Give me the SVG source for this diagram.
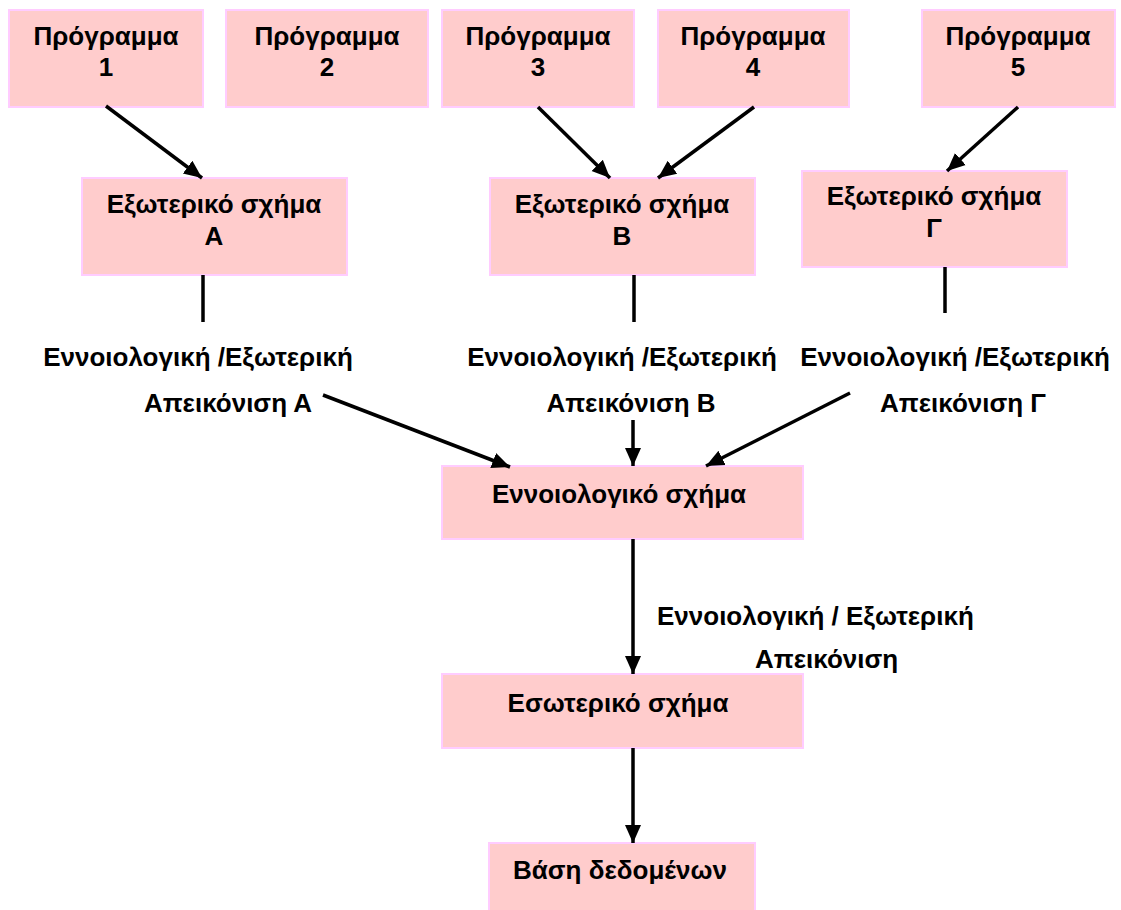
<svg xmlns="http://www.w3.org/2000/svg" width="1121" height="910" viewBox="0 0 1121 910">
  <style>
    .box { fill: #FFCCCC; stroke: #FFCCFF; stroke-width: 2; }
    .t { font-family: "Liberation Sans", Arial, sans-serif; font-weight: bold; font-size: 26px; fill: #000; }
    .c { text-anchor: middle; }
    .ln { stroke: #000; stroke-width: 3.5; fill: none; }
    .ar { stroke: #000; stroke-width: 3.5; fill: none; marker-end: url(#head); }
  </style>
  <defs>
    <marker id="head" markerUnits="userSpaceOnUse" markerWidth="20" markerHeight="20" viewBox="0 0 20 20" refX="18" refY="10" orient="auto">
      <path d="M0,2 L18,10 L0,18 Z" fill="#000"/>
    </marker>
  </defs>

  <rect width="1121" height="910" fill="#FFFFFF"/>

  <!-- programs -->
  <g id="prog1">
    <rect class="box" x="9" y="10" width="194" height="97"/>
    <text class="t c" x="106" y="45">Πρόγραμμα</text>
    <text class="t c" x="106" y="76">1</text>
  </g>
  <g id="prog2">
    <rect class="box" x="226" y="10" width="202" height="97"/>
    <text class="t c" x="327" y="45">Πρόγραμμα</text>
    <text class="t c" x="327" y="76">2</text>
  </g>
  <g id="prog3">
    <rect class="box" x="442" y="10" width="192" height="97"/>
    <text class="t c" x="538" y="45">Πρόγραμμα</text>
    <text class="t c" x="538" y="76">3</text>
  </g>
  <g id="prog4">
    <rect class="box" x="658" y="10" width="191" height="97"/>
    <text class="t c" x="753" y="45">Πρόγραμμα</text>
    <text class="t c" x="753" y="76">4</text>
  </g>
  <g id="prog5">
    <rect class="box" x="922" y="10" width="193" height="97"/>
    <text class="t c" x="1018" y="45">Πρόγραμμα</text>
    <text class="t c" x="1018" y="76">5</text>
  </g>

  <!-- external schemas -->
  <g id="extA">
    <rect class="box" x="82" y="178" width="265" height="97"/>
    <text class="t c" x="214" y="213">Εξωτερικό σχήμα</text>
    <text class="t c" x="214" y="245">Α</text>
  </g>
  <g id="extB">
    <rect class="box" x="490" y="178" width="265" height="97"/>
    <text class="t c" x="622" y="213">Εξωτερικό σχήμα</text>
    <text class="t c" x="622" y="245">Β</text>
  </g>
  <g id="extG">
    <rect class="box" x="802" y="171" width="265" height="96"/>
    <text class="t c" x="934" y="205">Εξωτερικό σχήμα</text>
    <text class="t c" x="934" y="237">Γ</text>
  </g>

  <!-- mapping labels -->
  <g id="mapA">
    <text class="t c" x="198" y="366">Εννοιολογική /Εξωτερική</text>
    <text class="t c" x="228" y="412">Απεικόνιση Α</text>
  </g>
  <g id="mapB">
    <text class="t c" x="622" y="366">Εννοιολογική /Εξωτερική</text>
    <text class="t c" x="631" y="412">Απεικόνιση Β</text>
  </g>
  <g id="mapG">
    <text class="t c" x="955" y="366">Εννοιολογική /Εξωτερική</text>
    <text class="t c" x="963" y="412">Απεικόνιση Γ</text>
  </g>

  <!-- conceptual / internal / database -->
  <g id="conceptual">
    <rect class="box" x="442" y="466" width="361" height="73"/>
    <text class="t c" x="619" y="503">Εννοιολογικό σχήμα</text>
  </g>
  <g id="mapInternal">
    <text class="t" x="657" y="625">Εννοιολογική / Εξωτερική</text>
    <text class="t" x="755" y="668">Απεικόνιση</text>
  </g>
  <g id="internal">
    <rect class="box" x="442" y="674" width="361" height="74"/>
    <text class="t c" x="618" y="712">Εσωτερικό σχήμα</text>
  </g>
  <g id="database">
    <rect class="box" x="489" y="843" width="266" height="80"/>
    <text class="t c" x="620" y="879">Βάση δεδομένων</text>
  </g>

  <!-- connectors -->
  <g id="connectors">
    <line class="ar" x1="106" y1="106" x2="202" y2="178"/>
    <line class="ar" x1="538" y1="107" x2="610" y2="178"/>
    <line class="ar" x1="754" y1="107" x2="658" y2="178"/>
    <line class="ar" x1="1018" y1="107" x2="947" y2="171"/>
    <line class="ln" x1="203" y1="275" x2="203" y2="322"/>
    <line class="ln" x1="634" y1="275" x2="634" y2="322"/>
    <line class="ln" x1="945" y1="267" x2="945" y2="313"/>
    <line class="ar" x1="323" y1="395" x2="510" y2="467"/>
    <line class="ar" x1="633" y1="420" x2="633" y2="466"/>
    <line class="ar" x1="850" y1="393" x2="706" y2="466"/>
    <line class="ar" x1="633" y1="539" x2="633" y2="674"/>
    <line class="ar" x1="633" y1="748" x2="633" y2="843"/>
  </g>
</svg>
